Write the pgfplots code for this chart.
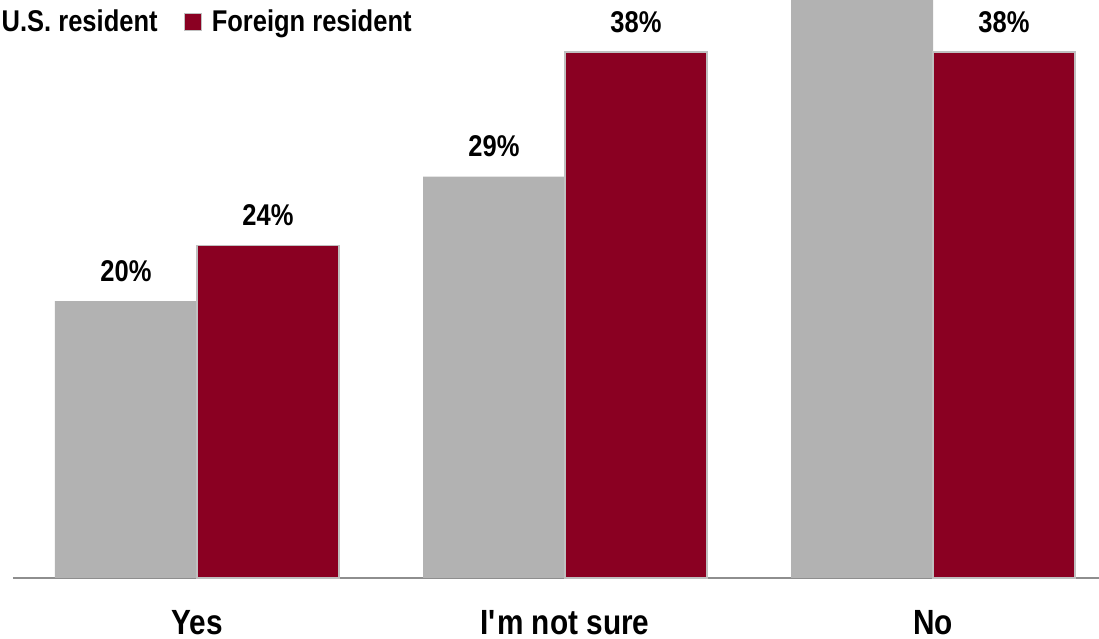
\documentclass[border=0pt]{standalone}
\usepackage{fontspec}
\setmainfont{Liberation Sans}[FakeStretch=0.85]
\usepackage{pgfplots}
\pgfplotsset{compat=1.18}
\definecolor{usgray}{HTML}{B2B2B2}
\definecolor{fred}{HTML}{8A0022}
\definecolor{edge}{HTML}{C0C0C0}
\definecolor{axgray}{HTML}{8E8E8E}
\begin{document}
\begin{tikzpicture}
\begin{axis}[
 scale only axis, width=552pt, height=380.6pt,
 xmin=-0.5, xmax=2.5, ymin=0, ymax=55,
 ybar=0pt, bar width=71pt,
 axis x line=bottom, axis y line=none,
 axis line style={-, axgray, line width=1pt},
 xtick={0,1,2}, xticklabels={Yes, {I\textquotesingle m not sure}, No}, major tick length=0pt,
 xticklabel style={font=\fontsize{17.5}{19}\selectfont\bfseries, inner sep=0pt, yshift=-16pt},
 ytick=\empty,
 nodes near coords={\pgfmathprintnumber[assume math mode=true]{\pgfplotspointmeta}\%},
 every node near coord/.append style={font=\fontsize{15}{17}\selectfont\bfseries, inner sep=0pt, yshift=9.5pt, black},
 legend columns=2,
 legend style={draw=none, fill=none, at={(axis description cs:0.3614,0.7304)}, anchor=east, inner sep=0pt,
   font=\fontsize{15}{17}\selectfont\bfseries,
   nodes={inner sep=0pt},
   /tikz/every odd column/.append style={column sep=5pt},
   /tikz/every even column/.append style={column sep=13pt}},
 legend image code/.code={\draw[#1] (0pt,-4.25pt) rectangle (8.5pt,4.25pt);},
 clip=false,
]
\addplot[fill=usgray, draw=none] coordinates {(0,20) (1,29) (2,51)};
\addplot[fill=fred, draw=edge, line width=0.6pt] coordinates {(0,24) (1,38) (2,38)};
\legend{U.S. resident, Foreign resident}
\coordinate (bl) at (axis cs:-0.5353,-4.41);
\coordinate (tr) at (axis cs:2.4511,41.76);
\end{axis}
\pgfresetboundingbox
\useasboundingbox (bl) rectangle (tr);
\end{tikzpicture}
\end{document}
